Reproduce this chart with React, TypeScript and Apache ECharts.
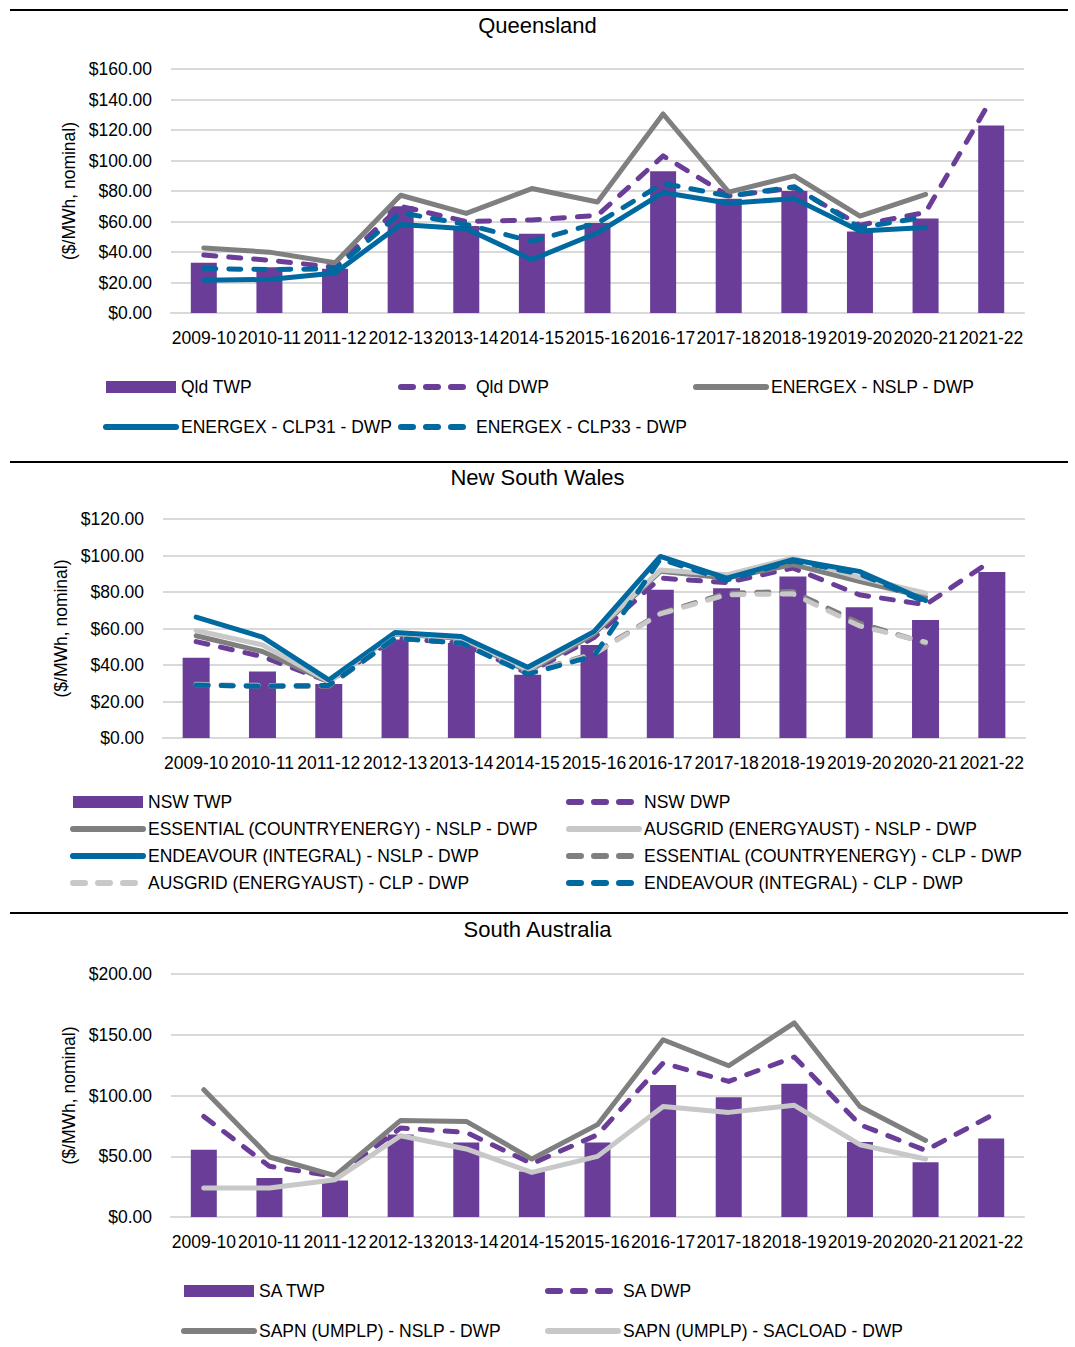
import React, { useEffect, useRef } from "react";
import * as echarts from "echarts";

const years = ["2009-10", "2010-11", "2011-12", "2012-13", "2013-14", "2014-15", "2015-16", "2016-17", "2017-18", "2018-19", "2019-20", "2020-21", "2021-22"];

// Queensland
const qldTWP = [33, 30, 29, 70, 57, 52, 59, 93, 75, 80, 53.5, 62, 123];
const qldDWP = [38, 34.6, 30, 70, 60, 61, 64, 103, 76.7, 82, 57.6, 66, 140];
const energexNSLP = [42.7, 39.9, 32.9, 77.2, 65.3, 81.6, 72.8, 130.5, 79.3, 89.9, 63.6, 77.8, null];
const energexCLP31 = [21.5, 22, 26.3, 58, 55.2, 35, 52.6, 79, 72, 75, 53.7, 56, null];
const energexCLP33 = [29.1, 28.5, 29, 65.8, 58, 47, 59, 85, 76.7, 82.8, 56, 63, null];

// New South Wales
const nswTWP = [44, 36.4, 29.6, 54, 52, 34.6, 51, 81.2, 82.1, 88.5, 71.7, 64.7, 90.9];
const nswDWP = [52.8, 44.6, 30.9, 54.7, 52, 35.5, 55, 87.6, 85.2, 93.1, 78.5, 73, 97.3];
const essentialNSLP = [56, 47.4, 30.9, 57, 54.7, 36.4, 57, 91.3, 87.6, 95, 85.8, 77.2, null];
const ausgridNSLP = [58.9, 51, 30.9, 57.4, 55, 37.3, 58, 92, 89.4, 98.6, 88, 79.4, null];
const endeavourNSLP = [66.2, 55.3, 31.8, 57.8, 55.6, 38.8, 58.3, 99.5, 87.6, 97.7, 91.3, 75.3, null];
const essentialCLP = [29, 28.4, 28.4, 54.7, 52, 35.5, 46.5, 68.4, 79.4, 80.3, 63, 52, null];
const ausgridCLP = [29.5, 28.8, 28.8, 55, 52.5, 35.5, 46, 68, 78.5, 79, 61.5, 52.5, null];
const endeavourCLP = [29, 28.4, 28.8, 54.7, 52, 35, 45, 98, 86.5, 97, 90, 74.5, null];

// South Australia
const saTWP = [55.4, 32.1, 30.1, 68, 61.4, 37.5, 61.4, 108.6, 98.5, 109.7, 61.7, 45, 64.7];
const saDWP = [82.8, 41.7, 33.4, 73.2, 69.6, 43.9, 67.7, 126.7, 111.6, 131.7, 76, 54.8, 83.4];
const sapnNSLP = [104.8, 49.4, 34, 79.5, 78.7, 47.7, 76, 145.9, 124.5, 159.7, 91, 63, null];
const sapnSACLOAD = [23.8, 23.8, 30.7, 66.9, 56, 36.7, 49.9, 91, 86.1, 91.9, 59.5, 47.7, null];

const PURPLE = "#6A3E98";
const GRAY = "#7F7F7F";
const LGRAY = "#C8C8C8";
const BLUE = "#0069A0";
const FONT = "'Liberation Sans', Arial, sans-serif";
const FS = 17.5;
const DASH = [12, 13];

export default function App() {
  const ref = useRef<HTMLDivElement>(null);
  useEffect(() => {
    if (!ref.current) return;
    const chart = echarts.init(ref.current, null, { renderer: "svg" });

    const grids = [
      { left: 171, right: 51, top: 69, height: 244 },
      { left: 163, right: 50, top: 519, height: 219 },
      { left: 171, right: 51, top: 974, height: 243 },
    ];
    const yMax = [160, 120, 200];
    const yInt = [20, 20, 50];

    const xAxes = grids.map((_, i) => ({
      type: "category",
      gridIndex: i,
      data: years,
      axisLine: { lineStyle: { color: "#D9D9D9", width: 2 } },
      axisTick: { show: false },
      axisLabel: { interval: 0, margin: 16, color: "#000", fontSize: FS, fontFamily: FONT },
    }));
    const yAxes = grids.map((_, i) => ({
      type: "value",
      gridIndex: i,
      min: 0,
      max: yMax[i],
      interval: yInt[i],
      name: "($/MWh, nominal)",
      nameLocation: "middle",
      nameGap: 82,
      nameTextStyle: { color: "#000", fontSize: FS, fontFamily: FONT },
      axisLine: { show: false },
      axisTick: { show: false },
      splitLine: { lineStyle: { color: "#D9D9D9", width: 2 } },
      axisLabel: {
        margin: 19,
        color: "#000",
        fontSize: FS,
        fontFamily: FONT,
        formatter: (v: number) => "$" + v.toFixed(2),
      },
    }));

    const bar = (name: string, data: any[], g: number, w: number) => ({
      name,
      type: "bar",
      data,
      xAxisIndex: g,
      yAxisIndex: g,
      barWidth: w,
      color: PURPLE,
      itemStyle: { color: PURPLE },
    });
    const line = (name: string, data: any[], g: number, color: string, dashed: boolean) => ({
      name,
      type: "line",
      data,
      xAxisIndex: g,
      yAxisIndex: g,
      symbol: "none",
      color,
      connectNulls: false,
      lineStyle: { color, width: 5, type: dashed ? DASH : "solid", cap: "round", join: "round" },
    });

    const series = [
      bar("Qld TWP", qldTWP, 0, 26),
      line("Qld DWP", qldDWP, 0, PURPLE, true),
      line("ENERGEX - NSLP - DWP", energexNSLP, 0, GRAY, false),
      line("ENERGEX - CLP31 - DWP", energexCLP31, 0, BLUE, false),
      line("ENERGEX - CLP33 - DWP", energexCLP33, 0, BLUE, true),

      bar("NSW TWP", nswTWP, 1, 27),
      line("NSW DWP", nswDWP, 1, PURPLE, true),
      line("ESSENTIAL (COUNTRYENERGY) - NSLP - DWP", essentialNSLP, 1, GRAY, false),
      line("AUSGRID (ENERGYAUST) - NSLP - DWP", ausgridNSLP, 1, LGRAY, false),
      line("ENDEAVOUR (INTEGRAL) - NSLP - DWP", endeavourNSLP, 1, BLUE, false),
      line("ESSENTIAL (COUNTRYENERGY) - CLP - DWP", essentialCLP, 1, GRAY, true),
      line("AUSGRID (ENERGYAUST) - CLP - DWP", ausgridCLP, 1, LGRAY, true),
      line("ENDEAVOUR (INTEGRAL) - CLP - DWP", endeavourCLP, 1, BLUE, true),

      bar("SA TWP", saTWP, 2, 26),
      line("SA DWP", saDWP, 2, PURPLE, true),
      line("SAPN (UMPLP) - NSLP - DWP", sapnNSLP, 2, GRAY, false),
      line("SAPN (UMPLP) - SACLOAD - DWP", sapnSACLOAD, 2, LGRAY, false),
    ];

    const isBar = (n: string) => n.indexOf("TWP") >= 0;
    const leg = (name: string, textX: number, cy: number) => {
      const b = isBar(name);
      const o: any = {
        data: [name],
        left: textX - (b ? 75 : 78),
        top: cy - 10,
        itemWidth: 70,
        itemHeight: 12,
        padding: 0,
        selectedMode: false,
        textStyle: { color: "#000", fontSize: FS, lineHeight: 20, fontFamily: FONT },
        lineStyle: { width: 6 },
      };
      if (b) o.icon = "rect";
      else o.itemStyle = { opacity: 0, borderWidth: 0 };
      return o;
    };

    const legends = [
      leg("Qld TWP", 181, 387),
      leg("Qld DWP", 476, 387),
      leg("ENERGEX - NSLP - DWP", 771, 387),
      leg("ENERGEX - CLP31 - DWP", 181, 427),
      leg("ENERGEX - CLP33 - DWP", 476, 427),

      leg("NSW TWP", 148, 802),
      leg("NSW DWP", 644, 802),
      leg("ESSENTIAL (COUNTRYENERGY) - NSLP - DWP", 148, 829),
      leg("AUSGRID (ENERGYAUST) - NSLP - DWP", 644, 829),
      leg("ENDEAVOUR (INTEGRAL) - NSLP - DWP", 148, 856),
      leg("ESSENTIAL (COUNTRYENERGY) - CLP - DWP", 644, 856),
      leg("AUSGRID (ENERGYAUST) - CLP - DWP", 148, 883),
      leg("ENDEAVOUR (INTEGRAL) - CLP - DWP", 644, 883),

      leg("SA TWP", 259, 1291),
      leg("SA DWP", 623, 1291),
      leg("SAPN (UMPLP) - NSLP - DWP", 259, 1331),
      leg("SAPN (UMPLP) - SACLOAD - DWP", 623, 1331),
    ];

    const titleStyle = { color: "#000", fontSize: 22, fontWeight: "normal", fontFamily: FONT };
    const titles = [
      { text: "Queensland", left: "center", top: 14, padding: 0, textStyle: titleStyle },
      { text: "New South Wales", left: "center", top: 466, padding: 0, textStyle: titleStyle },
      { text: "South Australia", left: "center", top: 918, padding: 0, textStyle: titleStyle },
    ];

    const sepY = [10, 462, 913];
    const graphic = sepY.map((y) => ({
      type: "line",
      shape: { x1: 10, y1: y, x2: 1068, y2: y },
      style: { stroke: "#000", lineWidth: 2 },
    }));

    chart.setOption({
      animation: false,
      backgroundColor: "#fff",
      title: titles,
      grid: grids,
      xAxis: xAxes,
      yAxis: yAxes,
      legend: legends,
      series,
      graphic,
    } as any);

    return () => chart.dispose();
  }, []);

  return <div ref={ref} style={{ position: "absolute", left: 0, top: 0, width: 1075, height: 1347 }} />;
}
